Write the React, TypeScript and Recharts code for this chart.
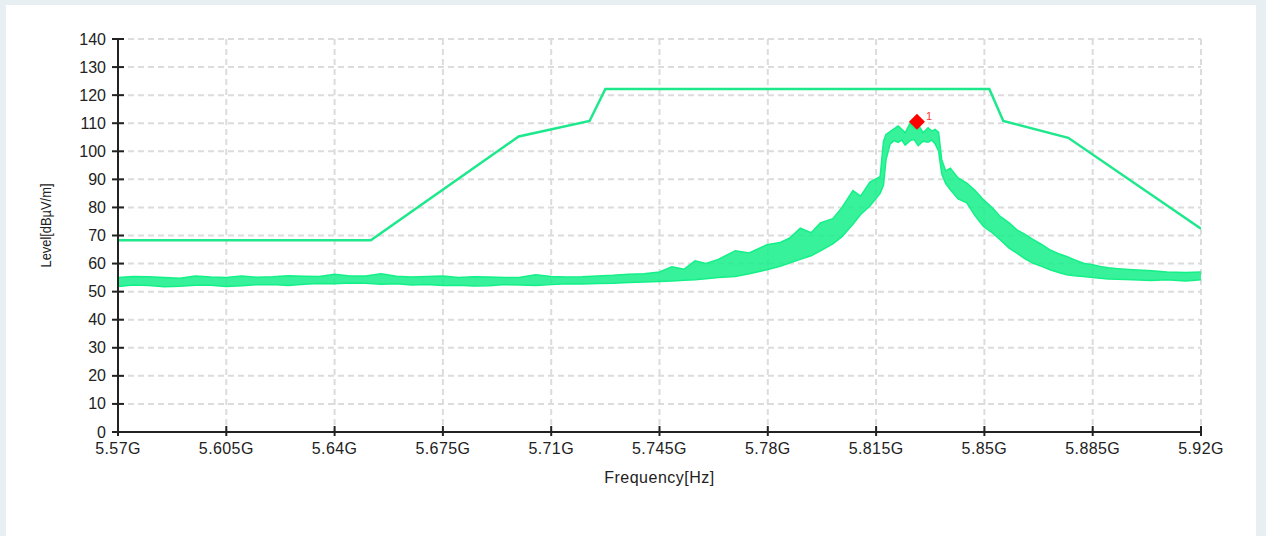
import { ComposedChart, Line, Area, Scatter, XAxis, YAxis, CartesianGrid } from 'recharts';

// frequency ticks (GHz) and level ticks (dBµV/m)
const freqTicks = [5.57, 5.605, 5.64, 5.675, 5.71, 5.745, 5.78, 5.815, 5.85, 5.885, 5.92];
const levelTicks = [0, 10, 20, 30, 40, 50, 60, 70, 80, 90, 100, 110, 120, 130, 140];

// limit mask
const limitFreq = [5.57, 5.6517, 5.6995, 5.7224, 5.7275, 5.8516, 5.8561, 5.8771, 5.92];
const limitLevel = [68.3, 68.3, 105.3, 110.8, 122.2, 122.2, 110.8, 104.8, 72.4];

// measured trace, read as min / max envelope of the noisy band
const traceFreq = [
  5.57, 5.575, 5.58, 5.585, 5.59, 5.595, 5.6, 5.605, 5.61, 5.615, 5.62, 5.625, 5.63, 5.635, 5.64,
  5.645, 5.65, 5.655, 5.66, 5.665, 5.67, 5.675, 5.68, 5.685, 5.69, 5.695, 5.7, 5.705, 5.71, 5.715,
  5.72, 5.725, 5.73, 5.735, 5.74, 5.745, 5.749, 5.753, 5.7565, 5.76, 5.764, 5.7695, 5.774, 5.7797,
  5.784, 5.787, 5.7905, 5.794, 5.797, 5.801, 5.804, 5.8075, 5.81, 5.813, 5.8163, 5.8174, 5.8182,
  5.8195, 5.8208, 5.8221, 5.8233, 5.8244, 5.826, 5.8273, 5.8286, 5.8302, 5.8318, 5.833, 5.8341,
  5.8352, 5.8362, 5.8375, 5.839, 5.8415, 5.8443, 5.847, 5.8497, 5.8525, 5.8551, 5.858, 5.8605,
  5.863, 5.8658, 5.8685, 5.8712, 5.874, 5.8766, 5.879, 5.882, 5.885, 5.8874, 5.89, 5.893, 5.898,
  5.904, 5.909, 5.915, 5.92,
];
const traceLow = [
  51.8, 52.4, 52.2, 51.7, 51.9, 52.3, 52.3, 51.8, 52.1, 52.5, 52.5, 52.2, 52.6, 52.9, 52.8,
  53.1, 53.0, 52.6, 52.8, 52.4, 52.5, 52.2, 52.3, 52.0, 52.1, 52.5, 52.4, 52.2, 52.5, 52.8,
  52.7, 52.9, 53.0, 53.3, 53.4, 53.6, 53.8, 54.1, 54.2, 54.6, 55.0, 55.4, 56.4, 57.8,
  59.0, 60.2, 61.5, 62.8, 64.5, 67.0, 69.6, 74.0, 77.5, 80.5, 85.0, 88.0, 97.0,
  102.5, 103.8, 103.2, 104.0, 102.2, 103.8, 104.2, 102.0, 103.6, 103.2, 104.0, 102.6,
  100.0, 92.0, 88.5, 86.3, 83.0, 81.6, 77.0, 73.2, 71.0, 68.5, 65.5, 63.7,
  61.8, 60.1, 59.0, 57.8, 56.8, 56.0, 55.7, 55.4, 55.0, 54.8, 54.5, 54.4, 54.2,
  54.0, 54.2, 53.8, 54.2,
];
const traceHigh = [
  55.0, 55.4, 55.3, 55.0, 54.8, 55.6, 55.2, 55.0, 55.6, 55.1, 55.3, 55.7, 55.5, 55.4, 56.2,
  55.6, 55.6, 56.4, 55.5, 55.2, 55.4, 55.6, 55.0, 55.3, 55.2, 55.0, 55.1, 56.0, 55.4, 55.2,
  55.3, 55.6, 55.8, 56.2, 56.4, 57.0, 58.9, 58.0, 61.0, 60.0, 61.5, 64.6, 63.8, 66.7,
  67.5, 69.0, 72.6, 71.0, 74.5, 76.0, 80.0, 86.0, 84.0, 89.0, 91.0, 103.6, 106.0,
  107.0, 108.0, 109.0, 107.8, 106.6, 110.0, 108.2, 109.5, 106.6, 108.4, 107.2, 107.8,
  106.7, 97.0, 93.0, 94.0, 90.5, 88.7, 86.0, 82.7, 80.0, 76.8, 74.5, 72.0,
  70.5, 68.5, 66.8, 64.9, 63.5, 62.5, 61.4, 60.1, 59.6, 59.0, 58.5, 58.2, 57.8,
  57.4, 57.0, 56.8, 57.0,
];

// marker 1
const markerFreq = [5.8282];
const markerLevel = [110.5];

const limitData = limitFreq.map((f, i) => ({ f, limit: limitLevel[i] }));
const traceData = traceFreq.map((f, i) => ({ f, band: [traceLow[i], traceHigh[i]] }));
const markerData = markerFreq.map((f, i) => ({ f, level: markerLevel[i] }));

const FONT = '"Liberation Sans", Arial, sans-serif';
const INK = '#222';
const GREEN = '#14f088';

function YTick(props: any) {
  const { x, y, payload } = props;
  return (
    <g>
      <line x1={x + 6} x2={x + 18} y1={y} y2={y} stroke={INK} strokeWidth={2} />
      <text x={x} y={y} dy={5.5} textAnchor="end" fontSize={16} fill={INK} fontFamily={FONT}>
        {payload.value}
      </text>
    </g>
  );
}

function XTick(props: any) {
  const { x, y, payload } = props;
  return (
    <g>
      <line x1={x} x2={x} y1={y - 15} y2={y - 5} stroke={INK} strokeWidth={2} />
      <text x={x} y={y} dy={13} textAnchor="middle" fontSize={16} letterSpacing={0.4} fill={INK} fontFamily={FONT}>
        {`${payload.value}G`}
      </text>
    </g>
  );
}

function YLabel(props: any) {
  const { viewBox } = props;
  const x = viewBox.x + 7;
  const y = viewBox.y + viewBox.height / 2 - 10;
  return (
    <text
      x={x}
      y={y}
      transform={`rotate(-90 ${x} ${y})`}
      textAnchor="middle"
      dy={5.5}
      fontSize={15}
      textLength={84}
      lengthAdjust="spacingAndGlyphs"
      fill={INK}
      fontFamily={FONT}
    >
      Level[dBµV/m]
    </text>
  );
}

function Marker(props: any) {
  const { cx, cy } = props;
  return (
    <g>
      <polygon
        points={`${cx},${cy - 8} ${cx + 8},${cy} ${cx},${cy + 8} ${cx - 8},${cy}`}
        fill="#f00"
      />
      <text x={cx + 9} y={cy - 2} fontSize={11} fill="#f33" fontFamily={FONT}>1</text>
    </g>
  );
}

export default function App() {
  return (
    <div style={{ position: 'absolute', left: 0, top: 0, width: 1266, height: 536, background: '#e8eff2', overflow: 'hidden' }}>
      <div style={{ position: 'absolute', left: 6, top: 5, width: 1250, height: 531, background: '#fff' }} />
      <div style={{ position: 'absolute', left: 0, top: 0 }}>
        <ComposedChart width={1266} height={536} margin={{ top: 39, right: 65, left: 38, bottom: 44 }}>
          <CartesianGrid stroke="#dcdcdc" strokeWidth={2} strokeDasharray="6 4" />
          <XAxis
            type="number"
            dataKey="f"
            domain={[5.57, 5.92]}
            ticks={freqTicks}
            interval={0}
            allowDataOverflow
            height={60}
            tickSize={4}
            tickMargin={5}
            tickLine={false}
            axisLine={{ stroke: INK, strokeWidth: 2 }}
            tick={<XTick />}
            label={{ value: 'Frequency[Hz]', position: 'insideBottom', offset: 9, style: { fontSize: 16, letterSpacing: 0.5, fill: INK, fontFamily: FONT } }}
          />
          <YAxis
            type="number"
            domain={[0, 140]}
            ticks={levelTicks}
            interval={0}
            allowDataOverflow
            width={80}
            tickSize={6}
            tickMargin={6}
            tickLine={false}
            axisLine={{ stroke: INK, strokeWidth: 2 }}
            tick={<YTick />}
            label={<YLabel />}
          />
          <Area
            data={traceData}
            dataKey="band"
            type="linear"
            stroke={GREEN}
            strokeWidth={1.5}
            fill={GREEN}
            fillOpacity={0.85}
            isAnimationActive={false}
          />
          <Line
            data={limitData}
            dataKey="limit"
            type="linear"
            stroke="#1de88c"
            strokeWidth={2.5}
            dot={false}
            isAnimationActive={false}
          />
          <Scatter data={markerData} dataKey="level" shape={<Marker />} isAnimationActive={false} />
        </ComposedChart>
      </div>
    </div>
  );
}
